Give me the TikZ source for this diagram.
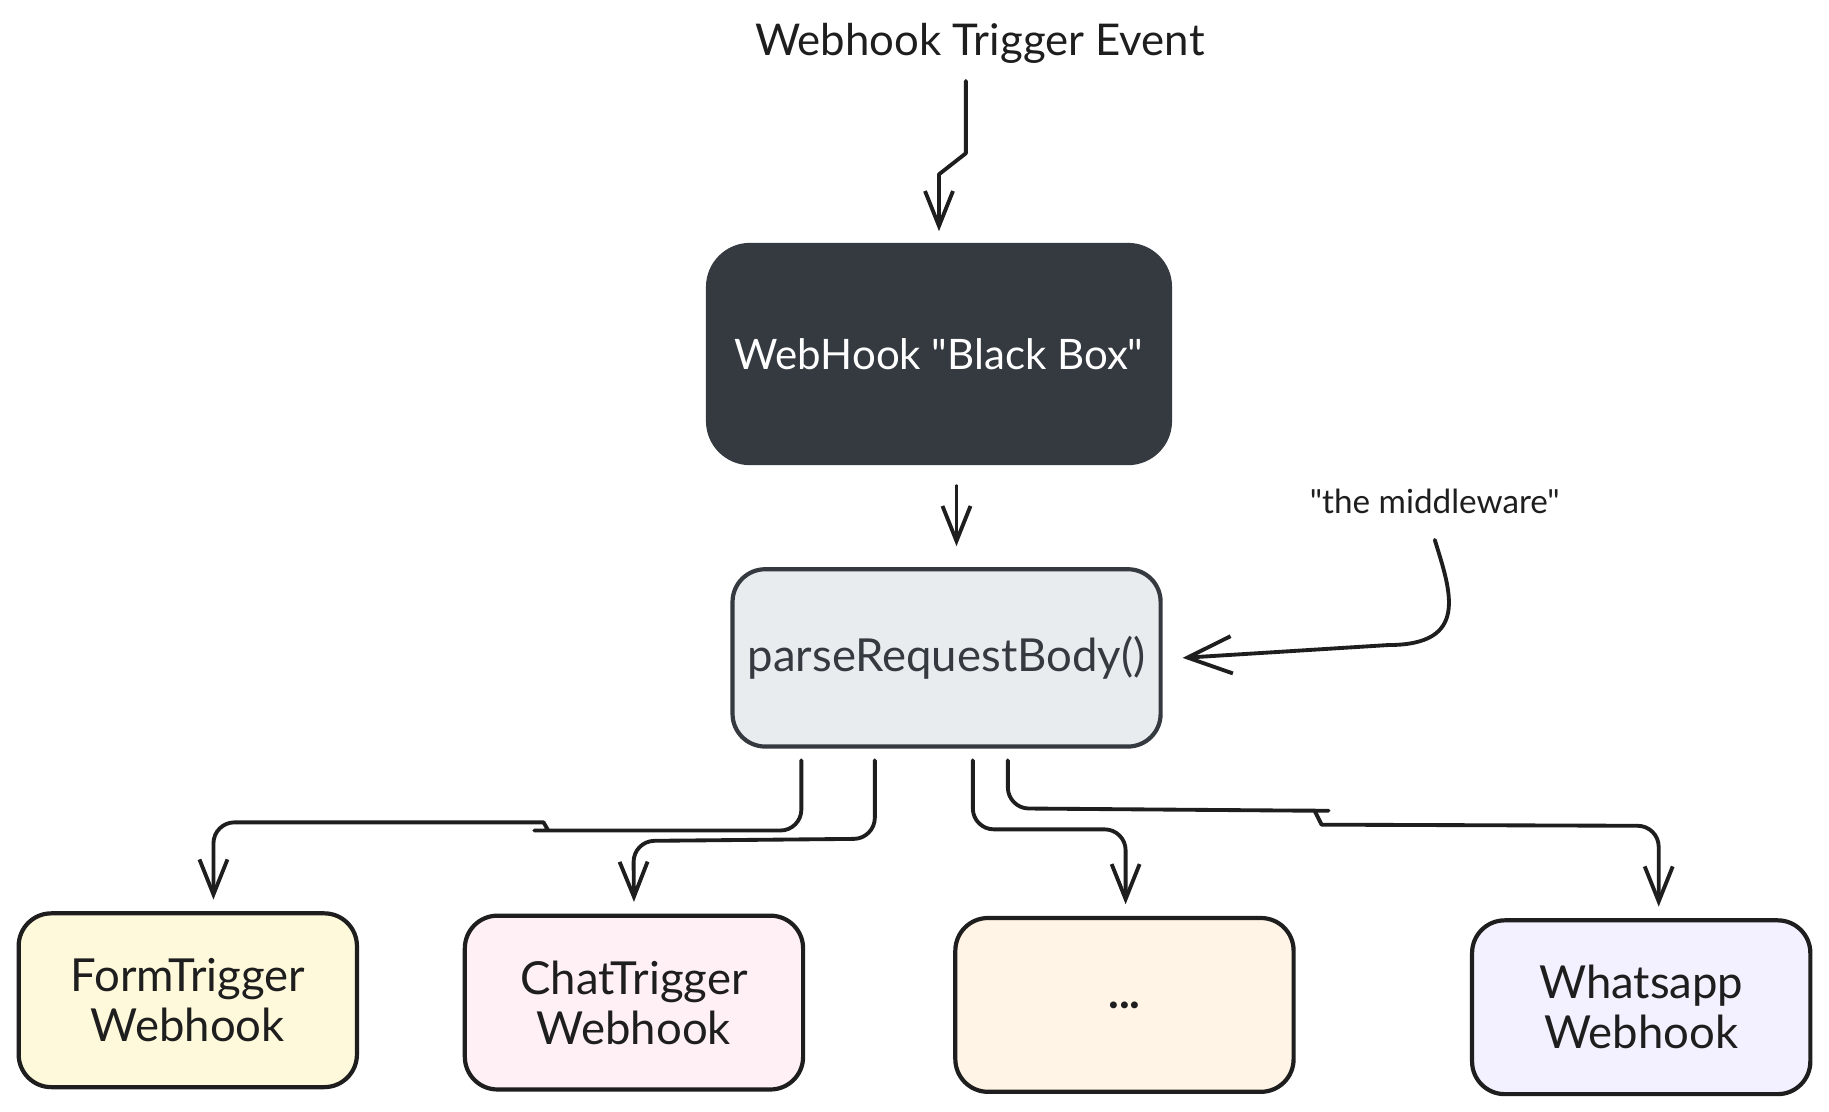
\documentclass[tikz,border=0pt]{standalone}
\usepackage{fontspec}
\setmainfont{Lato}[Ligatures=TeXOff]
\usetikzlibrary{arrows.meta,positioning,calc}
\definecolor{ink}{HTML}{1E1E1E}
\definecolor{darkbox}{HTML}{343A40}
\definecolor{parsefill}{HTML}{E9ECEF}
\definecolor{formfill}{HTML}{FFF9DB}
\definecolor{chatfill}{HTML}{FFF0F6}
\definecolor{dotsfill}{HTML}{FFF4E6}
\definecolor{wafill}{HTML}{F3F0FF}
\tikzset{
  box/.style={draw=ink, line width=3.6pt, rounded corners=28pt, minimum width=290pt, minimum height=149pt, align=center, font=\fontsize{39}{43}\selectfont, text=ink, inner sep=0pt},
  conn/.style={draw=ink, line width=3.3pt, line cap=round, line join=round, -{Straight Barb[length=30pt,width=24pt,line width=3.3pt]}},
  bigtip/.style={-{Straight Barb[length=38pt,width=32pt,line width=3.3pt]}},
  lbl/.style={text=ink, inner sep=0pt}
}
\begin{document}
\begin{tikzpicture}[x=1pt,y=-1pt]
\useasboundingbox (0,0) rectangle (1568,953);
\fill[white] (0,0) rectangle (1568,953);

% nodes
\node[lbl, font=\fontsize{37.5}{42}\selectfont] (evt) at (840,37) {Webhook Trigger Event};
\node[box, fill=darkbox, draw=darkbox, minimum width=396pt, minimum height=187pt, rounded corners=36pt, text=white, font=\fontsize{36}{42}\selectfont] (bb) at (805,303.5) {WebHook "Black Box"};
\node[box, fill=parsefill, draw=darkbox, minimum width=367pt, minimum height=152pt, text=darkbox, font=\fontsize{39}{44}\selectfont] (parse) at (811.5,564) {parseRequestBody()};
\node[lbl, font=\fontsize{28.5}{32}\selectfont] (mw) at (1230,430) {"the middleware"};
\node[box, fill=formfill] (form) at (161,857.5) {FormTrigger\\Webhook};
\node[box, fill=chatfill] (chat) at (543.5,859.5) {ChatTrigger\\Webhook};
\node[box, fill=dotsfill] (dots) at (964,861.5) {\textbf{...}};
\node[box, fill=wafill] (wa) at (1407,863.5) {Whatsapp\\Webhook};

% connectors
\draw[conn] ([xshift=-12pt,yshift=-15pt]evt.south) -- ++(0,62) -- ++(-23,18) -- ([yshift=10pt]bb.north);
\draw[conn] ([xshift=15pt,yshift=-18pt]bb.south) -- ([xshift=8.5pt,yshift=18pt]parse.north);
\draw[conn, bigtip] ([yshift=-22pt]mw.south) .. controls ++(14,45) and (1260,553) .. (1190,553) -- ([xshift=17pt]parse.east);

\draw[conn, rounded corners=18pt] ([xshift=-124.5pt,yshift=-10pt]parse.south) -- (687,712) -- (476,712) [sharp corners] -- (470,712) -- (466,705) -- (460,705) [rounded corners=18pt] -- (183,705) -- ([xshift=22pt,yshift=10pt]form.north);
\draw[conn, rounded corners=18pt] ([xshift=-61.5pt,yshift=-10pt]parse.south) -- (750,719) -- (543,721) -- ([yshift=10pt]chat.north);
\draw[conn, rounded corners=18pt] ([xshift=22.5pt,yshift=-10pt]parse.south) -- (834,711) -- (965,711) -- ([xshift=1pt,yshift=10pt]dots.north);
\draw[conn, rounded corners=18pt] ([xshift=52.5pt,yshift=-10pt]parse.south) -- (864,693) -- (1121,695) [sharp corners] -- (1127,695) -- (1133,707) -- (1139,707) [rounded corners=18pt] -- (1422,708) -- ([xshift=15pt,yshift=10pt]wa.north);
\end{tikzpicture}
\end{document}
